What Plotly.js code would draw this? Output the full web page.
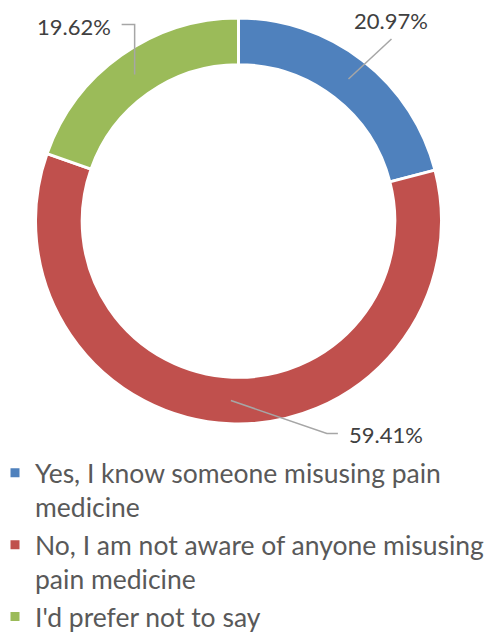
<!DOCTYPE html>
<html>
<head>
<meta charset="utf-8">
<script src="https://cdn.plot.ly/plotly-3.0.1.min.js"></script>
<style>html,body{margin:0;padding:0;background:#fff;}#chart{width:502px;height:635px;}</style>
</head>
<body>
<div id="chart"></div>
<script>
// ---- data ----
const categories = [
  "Yes, I know someone misusing pain<br>medicine",
  "No, I am not aware of anyone misusing<br>pain medicine",
  "I'd prefer not to say"
];
const values = [20.97, 59.41, 19.62];
const colors = ["#4F81BD", "#C0504D", "#9BBB59"];

// ---- layout constants (pixels) ----
const W = 502, H = 635;
const cx = 238.5, cy = 221, R = 203, hole = 0.77;
const anchorR = R * (1 + hole) / 2;
// leader routes relative to anchor, and label placement (blue, red, green)
const leaders = [
  {pts: [[43, -40]], tx: 0, ty: -18, xa: "center"},
  {pts: [[96, 33], [107, 33]], tx: 9, ty: 1, xa: "left"},
  {pts: [[0, -50], [-13, -50]], tx: -9, ty: 2, xa: "right"}
];
const FONT = "Lato, 'Open Sans', sans-serif";
const px = x => x / W, py = y => 1 - y / H;

const total = values.reduce((a, b) => a + b, 0);
const shapes = [], annotations = [];
let cum = 0;
values.forEach((v, i) => {
  const mid = (cum + v / 2) / total * 2 * Math.PI;
  cum += v;
  const ax = cx + anchorR * Math.sin(mid), ay = cy - anchorR * Math.cos(mid);
  const L = leaders[i];
  let path = `M${px(ax)},${py(ay)}`;
  let ex = ax, ey = ay;
  L.pts.forEach(p => { ex = ax + p[0]; ey = ay + p[1]; path += ` L${px(ex)},${py(ey)}`; });
  shapes.push({type: "path", xref: "paper", yref: "paper", path: path,
    line: {color: "#A6A6A6", width: 1.5}});
  annotations.push({xref: "paper", yref: "paper", x: px(ex + L.tx), y: py(ey + L.ty),
    xanchor: L.xa, yanchor: "middle", showarrow: false,
    text: v.toFixed(2) + "%", font: {family: FONT, size: 22, color: "#404040"}});
});

const trace = {
  type: "pie", labels: categories, values: values, sort: false,
  direction: "clockwise", rotation: 0, hole: hole,
  marker: {colors: colors, line: {color: "#FFFFFF", width: 3}},
  textinfo: "none", hoverinfo: "label+percent",
  domain: {x: [px(cx - R), px(cx + R)], y: [py(cy + R), py(cy - R)]}
};

const layout = {
  width: W, height: H, margin: {l: 0, r: 0, t: 0, b: 0, autoexpand: false},
  paper_bgcolor: "#FFFFFF", plot_bgcolor: "#FFFFFF",
  showlegend: true,
  legend: {x: px(-5), y: py(449), xanchor: "left", yanchor: "top", valign: "top",
    font: {family: FONT, size: 26.5, color: "#595959"}, tracegroupgap: 0, itemwidth: 30,
    bgcolor: "rgba(0,0,0,0)"},
  shapes: shapes, annotations: annotations
};
Plotly.newPlot("chart", [trace], layout, {displayModeBar: false, staticPlot: true});
</script>
</body>
</html>
